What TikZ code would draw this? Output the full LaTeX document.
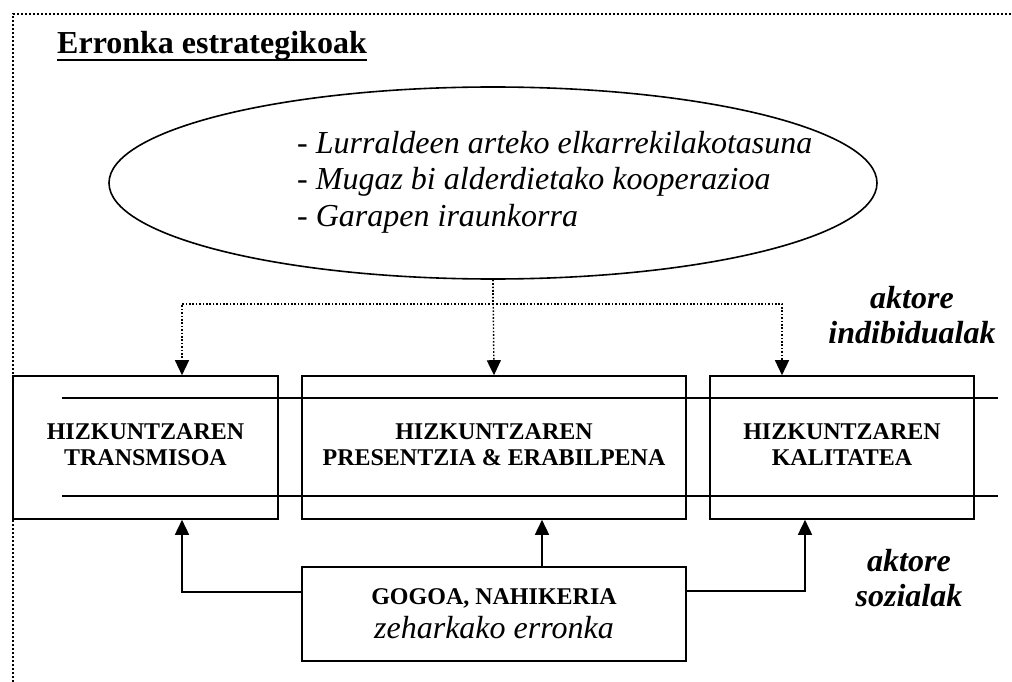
\documentclass[tikz,border=0pt]{standalone}
\usepackage{fontspec}
\setmainfont{Liberation Serif}
\usetikzlibrary{arrows.meta,shapes.geometric}

\begin{document}
\begin{tikzpicture}[x=1pt, y=-1pt]
    \tikzset{
        frame-line/.style = {line width=1.8pt, dash pattern=on 1.8pt off 2.2pt},
        boxed/.style = {draw, line width=1.6pt, minimum height=143pt, align=center,
            text depth=6pt, font=\fontsize{24}{26}\selectfont\bfseries},
        link/.style = {line width=1.6pt, -{Triangle[width=14pt, length=15pt]}},
        hint/.style = {line width=1.4pt, dash pattern=on 1.6pt off 1.8pt,
            -{Triangle[width=14pt, length=15pt]}},
        side-note/.style = {align=center, inner sep=0,
            font=\fontsize{32}{35}\selectfont\bfseries\itshape}
    }
    \useasboundingbox (0, 0) rectangle (1012, 682);
    \draw[frame-line] (13, 682) -- (13, 14) -- (1012, 14);

    % title
    \node[anchor=base west, inner sep=0, font=\fontsize{32}{36}\selectfont\bfseries]
        (title) at (57, 54) {Erronka estrategikoak};
    \draw[line width=2.5pt] ([yshift=-6pt]title.base west) -- ([yshift=-6pt]title.base east);

    % challenges
    \node[draw, ellipse, line width=1.6pt, minimum width=768pt, minimum height=192pt]
        (goals) at (493, 183) {};
    \node[anchor=north west, inner sep=0, align=left,
        font=\fontsize{32}{36.5}\selectfont\itshape] (goallist) at (297, 131)
        {- Lurraldeen arteko elkarrekilakotasuna\\
         - Mugaz bi alderdietako kooperazioa\\
         - Garapen iraunkorra};

    % three fields
    \node[boxed, minimum width=265pt] (transmit) at (145.5, 447.5) {HIZKUNTZAREN\\TRANSMISOA};
    \node[boxed, minimum width=384pt] (presence) at (494, 447.5) {HIZKUNTZAREN\\PRESENTZIA \& ERABILPENA};
    \node[boxed, minimum width=264pt] (quality) at (842, 447.5) {HIZKUNTZAREN\\KALITATEA};
    \foreach \y in {398, 496}
        \draw[line width=1.6pt] (62, \y) -- (998, \y);

    \node[boxed, minimum width=384pt, minimum height=94pt, text depth=0pt] (will) at (494, 614)
        {GOGOA, NAHIKERIA\\[8pt]{\fontsize{32}{33}\selectfont\mdseries\itshape zeharkako erronka}};

    \node[side-note] (indiv) at (912, 315) {aktore\\indibidualak};
    \node[side-note] (social) at (909, 578) {aktore\\sozialak};

    % arrows
    \draw[hint] (goals.south) -- (presence.north);
    \draw[hint] (goals.south) -- ++(0, 24) -| ([xshift=36.5pt]transmit.north);
    \draw[hint] (goals.south) -- ++(0, 24) -| ([xshift=-60pt]quality.north);

    \draw[link] ([xshift=48pt]will.north) -- ([xshift=48pt]presence.south);
    \draw[link] ([yshift=22pt]will.west) -| ([xshift=36.5pt]transmit.south);
    \draw[link] ([yshift=23pt]will.east) -| ([xshift=-37pt]quality.south);
\end{tikzpicture}
\end{document}
